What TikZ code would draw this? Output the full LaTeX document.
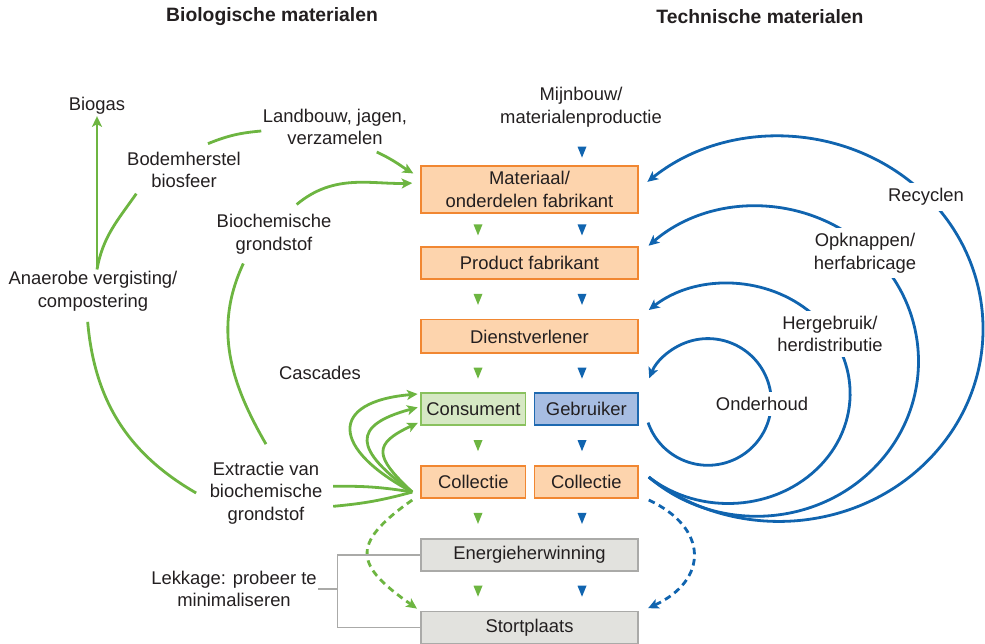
\documentclass[tikz,border=0pt]{standalone}
\usepackage{fontspec}
\setmainfont{Liberation Sans}
\usetikzlibrary{positioning, arrows.meta, calc}

\definecolor{txtc}{RGB}{35,31,32}
\definecolor{orfill}{RGB}{253,212,173}
\definecolor{orline}{RGB}{241,135,50}
\definecolor{grfill}{RGB}{214,232,196}
\definecolor{grline}{RGB}{137,193,94}
\definecolor{blfill}{RGB}{167,189,226}
\definecolor{blline}{RGB}{30,105,176}
\definecolor{gyfill}{RGB}{226,226,222}
\definecolor{gyline}{RGB}{170,170,168}
\definecolor{gflow}{RGB}{109,181,65}
\definecolor{bflow}{RGB}{16,100,175}

\tikzset{
every node/.style={font=\fontsize{13.8pt}{17pt}\selectfont, text=txtc}, % all text
lbl/.style={align=center, inner sep=1pt},
head/.style={font=\fontsize{14.5pt}{17pt}\selectfont\bfseries},
box/.style={draw, line width=1.1pt, minimum width=162.75pt, minimum height=24pt, inner sep=2pt, align=center},
halfbox/.style={box, minimum width=78.5pt},
obox/.style={fill=orfill, draw=orline},
gbox/.style={fill=grfill, draw=grline},
bbox/.style={fill=blfill, draw=blline},
ybox/.style={fill=gyfill, draw=gyline},
gline/.style={draw=gflow, line width=2.1pt},
bline/.style={draw=bflow, line width=2.1pt},
garrow/.style={gline, -{Stealth[length=8pt, width=7.5pt, inset=2pt]}, color=gflow},
barrow/.style={bline, -{Stealth[length=8pt, width=7.5pt, inset=2pt]}, color=bflow},
gdash/.style={garrow, dash pattern=on 5pt off 3.5pt},
bdash/.style={barrow, dash pattern=on 5pt off 3.5pt},
leak/.style={draw=gyline, line width=1pt},
cover/.style={lbl, fill=white, inner ysep=4pt},
tri/.pic={\fill (-4.5,5.5) -- (4.5,5.5) -- (0,-5.5) -- cycle;},
}

\begin{document}
\begin{tikzpicture}[x=0.75pt, y=0.75pt]
\useasboundingbox (0,0) rectangle (985,643);

% headers
\node[head] (biohead) at (272,626) {Biologische materialen};
\node[head] (techhead) at (760,626) {Technische materialen};

% central column
\node[box, obox, minimum height=35pt] (mat) at (529.5,453.5) {Materiaal/\\onderdelen fabrikant};
\node[box, obox, below=24.5pt of mat] (prod) {Product fabrikant};
\node[box, obox, below=29.5pt of prod, minimum height=25pt] (dienst) {Dienstverlener};
\node[halfbox, gbox, below right=29pt and 0pt of dienst.south west] (cons) {Consument};
\node[halfbox, bbox, below left=29pt and 0pt of dienst.south east, minimum width=77.5pt] (gebr) {Gebruiker};
\node[halfbox, obox, below=29.5pt of cons] (colL) {Collectie};
\node[halfbox, obox, below=29.5pt of gebr, minimum width=77.5pt] (colR) {Collectie};
\node[box, ybox, below right=29.5pt and 0pt of colL.south west] (energ) {Energieherwinning};
\node[box, ybox, below=29.5pt of energ] (stort) {Stortplaats};

% labels left
\node[lbl] (biogas) at (97,537) {Biogas};
\node[lbl] (landbouw) at (335,516) {Landbouw, jagen,\\verzamelen};
\node[lbl] (bodem) at (184,473) {Bodemherstel\\biosfeer};
\node[lbl] (biochem) at (274,409) {Biochemische\\grondstof};
\node[lbl] (anaerobe) at (93,352) {Anaerobe vergisting/\\compostering};
\node[lbl] (cascades) at (320,270) {Cascades};
\node[lbl] (extractie) at (266,150) {Extractie van\\biochemische\\grondstof};
\node[lbl] (lekkage) at (234,54) {Lekkage: probeer te\\minimaliseren};
\node[lbl] (mijnbouw) at (581,536) {Mijnbouw/\\materialenproductie};

\coordinate (cfan) at ([xshift=-6pt,yshift=-7.5pt]colL.west);
\coordinate (bfan) at ([xshift=7.5pt,yshift=3.75pt]colR.east);

% small flow tips
\coordinate (gx) at (478,0);
\coordinate (bx) at (582,0);
\foreach \a/\b in {mat/prod, prod/dienst, dienst/cons, cons/colL, colL/energ, energ/stort}{
  \path ($(\a.south)!0.5!(\b.north)$) coordinate (m);
  \pic[color=gflow] at (m -| gx) {tri};
}
\foreach \a/\b in {mat/prod, prod/dienst, dienst/gebr, gebr/colR, colR/energ, energ/stort}{
  \path ($(\a.south)!0.5!(\b.north)$) coordinate (m);
  \pic[color=bflow] at (m -| bx) {tri};
}
\pic[color=bflow] at ([yshift=10pt]mat.north -| bx) {tri};

% biological loop
\draw[garrow] (biogas.south |- anaerobe.north) -- (biogas.south);
\draw[gline] (biogas.south |- anaerobe.north) to[out=80,in=235] ([xshift=8pt,yshift=-3pt]bodem.south west);
\draw[gline] ([xshift=18pt,yshift=5pt]bodem.north) to[out=22,in=185] ([yshift=-3pt]landbouw.west);
\draw[garrow, shorten >=6pt] ([xshift=-24pt,yshift=-4pt]landbouw.south east) to[out=-25,in=150] ([yshift=-9pt]mat.north west);
\draw[garrow, shorten >=6pt] ([xshift=17pt,yshift=6pt]biochem.north) to[out=40,in=182] ([yshift=5pt]mat.west);
\draw[gline] ([yshift=12pt]extractie.north) to[out=120,in=-115] ([xshift=-23pt,yshift=-6pt]biochem.south);
\draw[gline] ([xshift=-9pt]extractie.west) to[out=150,in=-85] ([xshift=-4pt,yshift=-7pt]anaerobe.south);
\draw[gline] (cfan) to[bend right=5] ([xshift=7pt,yshift=5pt]extractie.east);
\draw[gline] (cfan) to[bend left=5] ([xshift=7pt,yshift=-10pt]extractie.east);

% cascades
\draw[garrow, shorten >=2pt] (cfan) to[out=152,in=185,looseness=2.4] ([yshift=11.6pt]cons.west);
\draw[garrow, shorten >=2pt] (cfan) to[out=144,in=195,looseness=2.15] ([yshift=1.9pt]cons.west);
\draw[garrow, shorten >=2pt] (cfan) to[out=137,in=205,looseness=1.9] ([yshift=-9.4pt]cons.west);

% leakage
\draw[gdash, shorten >=3pt] ([yshift=-6pt]cfan) to[out=215,in=145,looseness=1.8] (stort.north west);
\draw[bdash] ([xshift=7.5pt,yshift=-13.5pt]colR.east) to[out=-25,in=25,looseness=1.57] ([xshift=7pt,yshift=2pt]stort.north east);
\coordinate (lk) at ([xshift=-62pt]energ.west);
\draw[leak] (energ.west) -- (lk) |- (stort.west);
\draw[leak] (lekkage.east) -- (lekkage.east -| lk);

% technical loops
\draw[barrow] ([xshift=7pt,yshift=-10pt]gebr.east) arc[start angle=199, end angle=518, radius=47.5pt];
\draw[barrow] (bfan) arc[start angle=229.4, end angle=490.6, x radius=91.5pt, y radius=82.5pt];
\draw[barrow] (bfan) arc[start angle=228.3, end angle=491.8, x radius=121.5pt, y radius=116.25pt];
\draw[barrow] (bfan) arc[start angle=230.3, end angle=490.2, x radius=153pt, y radius=144.4pt];

\node[cover] (recyclen) at (926,446) {Recyclen};
\node[cover] (opknappen) at (865,390) {Opknappen/\\herfabricage};
\node[cover] (hergebruik) at (830,309) {Hergebruik/\\herdistributie};
\node[cover] (onderhoud) at (762,239) {Onderhoud};
\end{tikzpicture}
\end{document}
